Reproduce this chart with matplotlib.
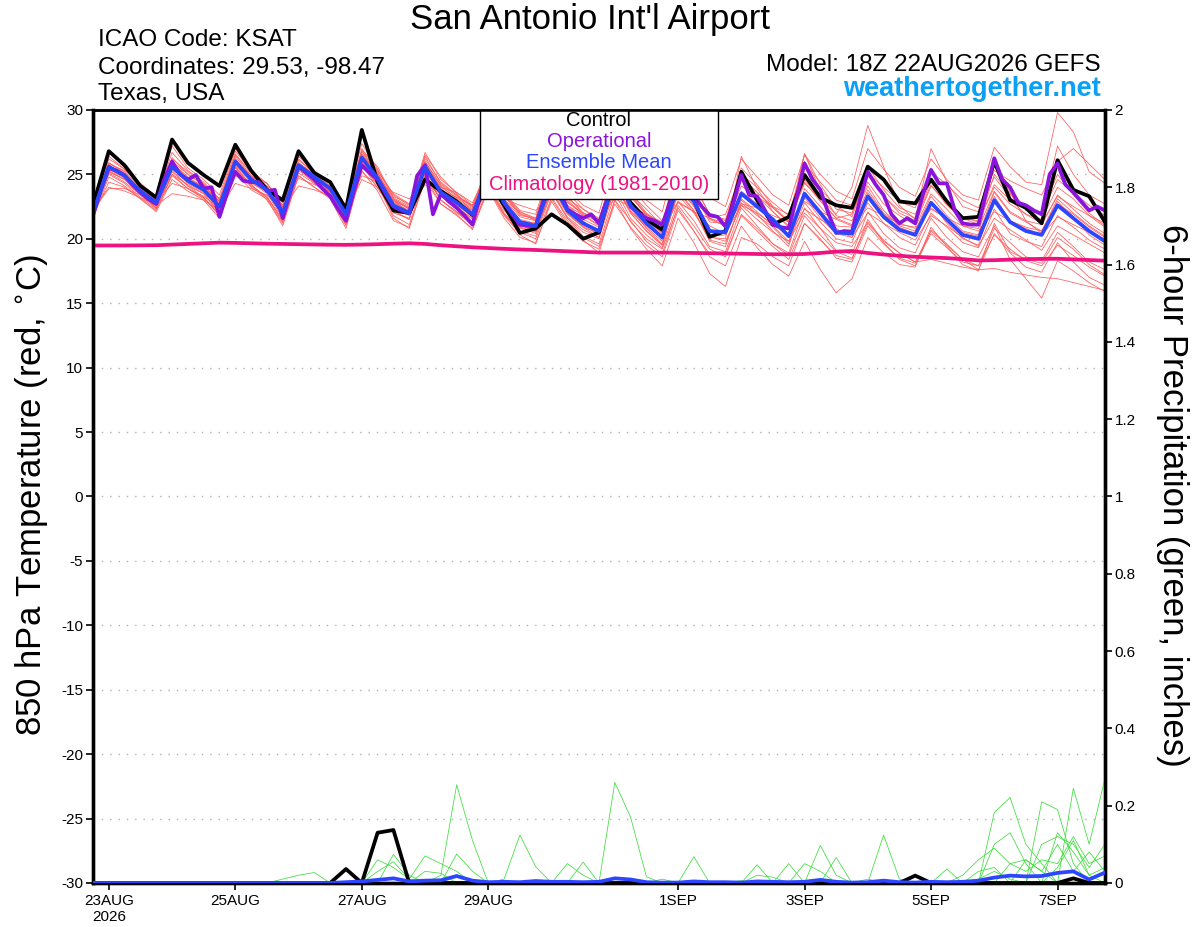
import numpy as np
import pandas as pd
import matplotlib
matplotlib.use("Agg")
import matplotlib.pyplot as plt
from matplotlib.patches import Rectangle

plt.rcParams['font.family'] = ['Liberation Sans', 'DejaVu Sans']

#----------------------------------------
#--------data----------------------------
#----------------------------------------
times = pd.date_range('2026-08-22 18:00', periods=65, freq='6h')
times_op = pd.date_range('2026-08-22 18:00', periods=129, freq='3h')

control = [22.6, 26.8, 25.7, 24.1, 23.2, 27.7, 25.9, 24.95, 24.1, 27.3, 25.3, 23.8, 23.0,
           26.8, 25.1, 24.4, 22.3, 28.45, 24.4, 22.2, 22.0, 24.6, 23.7, 22.9, 21.85, 24.5,
           22.6, 20.45, 20.8, 21.9, 21.1, 20.0, 20.5, 25.0, 22.8, 21.5, 20.7, 25.0, 23.0,
           20.15, 20.6, 25.2, 23.0, 21.1, 21.7, 24.95, 23.2, 22.6, 22.4, 25.6, 24.6, 22.9,
           22.75, 24.6, 22.9, 21.6, 21.7, 26.0, 23.0, 22.4, 21.2, 26.1, 23.8, 23.3, 21.3]

ens_mean = [22.0, 25.6, 24.9, 23.7, 22.8, 25.6, 24.5, 23.8, 22.5, 26.0, 24.6, 23.8, 22.0,
            25.7, 24.8, 23.9, 21.9, 26.3, 24.7, 22.6, 22.0, 25.6, 23.6, 22.8, 21.9, 25.0,
            22.8, 21.3, 21.0, 24.5, 22.2, 21.2, 20.6, 24.8, 22.6, 21.2, 20.1, 24.3, 22.9,
            20.6, 20.5, 23.5, 22.5, 21.5, 20.2, 23.5, 22.0, 20.5, 20.4, 23.3, 21.7, 20.7,
            20.3, 22.8, 21.5, 20.3, 20.0, 23.0, 21.3, 20.6, 20.3, 22.6, 21.6, 20.6, 19.8]

# operational run is 3-hourly
operational = [21.8, 23.8, 25.5, 25.3, 24.9, 24.2, 23.6, 23.1, 22.7, 24.6,
               26.0, 25.0, 24.6, 24.95, 23.9, 24.0, 21.7, 23.6, 25.2, 24.5,
               24.4, 24.4, 23.7, 23.8, 21.6, 23.7, 25.6, 25.1, 24.6, 23.9,
               23.3, 22.3, 21.4, 23.7, 25.7, 25.1, 24.6, 23.5, 22.5, 22.2,
               22.0, 24.9, 25.7, 21.9, 23.5, 22.9, 22.4, 21.8, 21.1, 23.5,
               25.5, 24.0, 22.8, 21.9, 21.1, 21.0, 21.0, 23.0, 25.5, 23.9,
               22.3, 21.9, 21.6, 21.9, 21.2, 23.0, 25.3, 24.0, 22.5, 22.0,
               21.6, 21.4, 21.1, 22.8, 25.0, 24.1, 23.3, 22.5, 21.85, 21.7,
               20.95, 22.8, 24.95, 23.4, 23.3, 22.2, 21.1, 20.9, 20.8, 23.2,
               25.85, 24.6, 23.8, 22.0, 20.45, 20.6, 20.55, 23.0, 25.2, 24.2,
               23.4, 21.9, 21.2, 21.6, 21.2, 23.5, 25.35, 24.3, 24.3, 22.2,
               21.2, 21.1, 21.1, 23.7, 26.25, 24.6, 24.0, 22.8, 22.6, 22.2,
               21.9, 25.0, 25.85, 24.2, 23.6, 22.9, 22.2, 22.5, 22.2]

climatology = [19.48, 19.48, 19.48, 19.49, 19.5, 19.55, 19.6, 19.65, 19.7, 19.68, 19.65, 19.62, 19.6,
               19.58, 19.56, 19.54, 19.53, 19.55, 19.58, 19.62, 19.65, 19.6, 19.5, 19.42, 19.34, 19.28,
               19.22, 19.17, 19.13, 19.08, 19.03, 18.98, 18.93, 18.93, 18.93, 18.93, 18.93, 18.92, 18.9,
               18.88, 18.86, 18.84, 18.82, 18.8, 18.8, 18.82, 18.9, 19.0, 19.05, 18.9, 18.78, 18.68,
               18.6, 18.55, 18.5, 18.42, 18.32, 18.34, 18.38, 18.42, 18.44, 18.45, 18.4, 18.35, 18.3]

mem01 = [22.4, 26.9, 25.5, 24.2, 22.9, 27.2, 25.5, 24.6, 23.4, 27.0, 25.2, 24.0, 22.6,
         26.5, 25.2, 24.3, 22.6, 27.4, 25.4, 23.1, 22.3, 26.5, 24.8, 23.5, 22.0, 25.6,
         23.5, 21.9, 21.5, 25.8, 23.6, 22.3, 21.4, 25.6, 23.4, 21.9, 21.2, 25.9, 24.1,
         21.9, 21.4, 25.5, 24.2, 22.5, 21.9, 26.0, 23.8, 22.6, 21.7, 25.2, 23.3, 22.0,
         21.4, 24.2, 22.6, 21.5, 21.8, 25.8, 23.9, 22.3, 22.1, 25.0, 23.4, 22.0, 21.0]
mem02 = [21.6, 24.8, 24.1, 23.1, 22.2, 24.9, 23.9, 23.2, 22.0, 25.3, 24.2, 23.0, 21.2,
         24.9, 24.0, 23.2, 21.0, 25.2, 24.1, 21.8, 21.1, 24.9, 23.0, 22.1, 21.0, 23.9,
         21.8, 20.5, 20.0, 23.2, 21.4, 20.1, 19.4, 23.0, 21.4, 19.8, 18.8, 22.6, 21.0,
         19.2, 18.6, 21.9, 20.8, 19.6, 18.7, 21.8, 20.3, 19.0, 18.5, 21.2, 19.8, 18.9,
         18.2, 20.6, 19.5, 18.4, 17.9, 20.8, 19.7, 18.6, 18.3, 20.5, 19.4, 18.2, 17.6]
mem03 = [22.1, 25.9, 25.2, 24.0, 22.9, 26.3, 25.0, 24.2, 22.8, 26.6, 25.1, 24.3, 22.5,
         26.2, 25.1, 24.4, 22.4, 26.8, 25.3, 23.4, 22.6, 26.0, 24.2, 23.3, 22.6, 24.8,
         22.5, 21.4, 21.2, 25.2, 23.0, 21.9, 21.3, 25.9, 24.1, 22.6, 21.4, 24.8, 23.3,
         21.6, 21.9, 24.9, 23.6, 22.4, 21.3, 24.4, 22.9, 21.6, 21.9, 25.6, 23.8, 22.4,
         21.9, 24.6, 22.8, 21.6, 21.4, 24.0, 22.7, 21.9, 21.2, 23.3, 22.5, 21.8, 20.9]
mem04 = [22.3, 24.0, 23.7, 23.2, 22.6, 23.5, 23.3, 23.0, 22.2, 24.3, 23.9, 23.4, 22.3,
         24.1, 23.8, 23.3, 22.0, 24.6, 24.0, 23.1, 22.4, 24.2, 23.5, 22.9, 22.2, 24.0,
         23.0, 22.1, 21.5, 23.5, 22.6, 21.8, 21.0, 23.6, 22.5, 21.4, 20.5, 22.9, 22.1,
         21.0, 20.4, 22.6, 22.0, 21.1, 20.2, 22.3, 21.5, 20.8, 20.1, 22.0, 21.2, 20.5,
         19.9, 21.8, 21.0, 20.1, 19.4, 21.6, 20.7, 19.9, 19.1, 21.0, 20.3, 19.6, 18.9]
mem05 = [21.9, 25.3, 24.6, 23.5, 22.5, 25.9, 24.8, 24.0, 22.6, 26.4, 24.9, 24.1, 22.3,
         25.9, 24.6, 23.6, 21.6, 26.6, 25.0, 22.9, 22.4, 25.9, 24.0, 23.2, 22.3, 25.9,
         23.6, 22.2, 21.9, 25.9, 23.8, 22.6, 22.0, 26.4, 24.5, 23.0, 22.1, 26.8, 24.9,
         23.2, 22.5, 26.2, 24.8, 23.4, 22.6, 26.5, 25.0, 23.7, 23.1, 27.0, 25.4, 24.0,
         23.3, 26.2, 24.6, 23.4, 23.0, 27.1, 25.6, 24.4, 24.2, 29.8, 28.3, 25.2, 24.3]
mem06 = [22.0, 25.1, 24.4, 23.4, 22.4, 25.2, 24.1, 23.5, 22.1, 25.7, 24.4, 23.5, 21.6,
         25.4, 24.5, 23.6, 21.6, 25.9, 24.3, 22.0, 21.6, 25.1, 23.0, 22.0, 21.2, 24.6,
         22.3, 20.9, 20.4, 23.9, 21.6, 20.2, 19.6, 23.5, 21.3, 20.0, 19.2, 22.4, 20.6,
         18.6, 17.9, 21.0, 19.3, 18.0, 17.1, 19.8, 17.6, 15.8, 16.9, 20.1, 18.9, 18.0,
         17.8, 20.7, 19.6, 18.4, 17.6, 20.4, 18.9, 17.8, 17.4, 19.7, 18.2, 17.0, 16.4]
mem07 = [22.2, 25.7, 25.0, 23.9, 23.0, 25.9, 24.7, 24.0, 22.9, 26.2, 24.9, 24.0, 22.1,
         25.9, 25.0, 24.0, 22.0, 26.1, 24.9, 23.0, 22.3, 26.4, 24.3, 23.4, 22.4, 25.4,
         22.9, 21.1, 20.5, 24.1, 22.4, 21.4, 20.3, 24.3, 22.0, 20.6, 19.5, 23.8, 22.2,
         19.8, 19.4, 23.0, 21.9, 20.6, 19.4, 23.9, 22.5, 21.0, 20.9, 23.8, 22.0, 21.1,
         20.9, 23.5, 22.3, 21.0, 20.8, 23.7, 22.1, 21.4, 21.1, 23.4, 22.3, 21.2, 20.4]
mem08 = [21.7, 25.2, 24.6, 23.4, 22.4, 25.3, 24.1, 23.2, 21.8, 25.5, 24.0, 23.2, 21.3,
         25.1, 24.3, 23.4, 21.2, 25.7, 24.2, 21.6, 20.8, 24.8, 22.7, 21.9, 20.7, 24.0,
         21.9, 20.3, 19.6, 23.1, 21.2, 19.9, 18.9, 23.0, 20.8, 19.2, 17.9, 21.6, 19.7,
         17.3, 16.3, 20.1, 19.6, 18.6, 17.9, 21.2, 20.0, 18.5, 18.2, 21.0, 19.6, 18.5,
         18.1, 20.4, 19.3, 18.2, 17.9, 20.3, 19.2, 18.3, 17.9, 19.5, 18.7, 17.8, 17.1]
mem09 = [22.5, 25.8, 25.3, 24.3, 23.3, 26.0, 25.0, 24.2, 23.1, 25.9, 24.8, 24.3, 22.8,
         25.5, 24.9, 24.3, 22.5, 25.8, 24.8, 23.3, 22.7, 25.2, 24.0, 23.6, 22.8, 25.3,
         23.3, 22.0, 21.4, 24.6, 23.1, 22.3, 21.6, 25.0, 23.2, 21.9, 21.0, 24.7, 23.6,
         21.5, 21.0, 24.1, 23.3, 22.4, 21.3, 24.3, 23.1, 21.9, 24.0, 28.8, 25.6, 22.6,
         21.5, 24.5, 23.0, 21.7, 21.3, 24.2, 23.0, 21.9, 21.5, 24.0, 23.1, 21.8, 21.2]
mem10 = [22.0, 25.4, 24.8, 23.5, 22.7, 25.4, 24.4, 23.9, 22.7, 26.1, 24.5, 23.6, 21.8,
         25.6, 24.7, 23.7, 21.7, 26.5, 25.1, 23.0, 22.0, 25.4, 23.3, 22.5, 21.5, 24.6,
         22.4, 21.0, 20.8, 24.2, 22.0, 20.9, 20.4, 24.6, 22.4, 20.8, 19.6, 23.9, 22.6,
         20.1, 20.0, 26.4, 23.9, 22.1, 21.0, 26.6, 23.7, 21.8, 21.4, 24.1, 22.2, 21.0,
         20.6, 23.3, 21.8, 20.6, 20.3, 23.6, 22.0, 21.3, 20.6, 23.1, 22.0, 21.0, 20.2]
mem11 = [22.1, 25.5, 24.8, 23.6, 22.6, 25.5, 24.3, 23.6, 22.3, 25.9, 24.5, 23.7, 21.9,
         25.6, 24.6, 23.7, 21.8, 26.1, 24.5, 22.4, 21.8, 25.3, 23.3, 22.4, 21.6, 24.7,
         22.5, 21.2, 20.9, 24.3, 22.0, 21.0, 20.4, 24.0, 22.2, 21.0, 20.2, 23.4, 22.0,
         20.2, 19.8, 22.6, 21.5, 20.5, 19.8, 22.0, 20.8, 19.7, 19.4, 21.3, 19.9, 18.9,
         18.2, 18.4, 18.1, 17.8, 17.6, 17.7, 17.4, 17.2, 17.0, 16.9, 16.6, 16.3, 16.0]
mem12 = [21.8, 25.0, 24.3, 23.2, 22.3, 25.0, 23.9, 23.1, 21.9, 25.6, 24.2, 23.2, 21.5,
         25.3, 24.4, 23.5, 21.4, 26.0, 24.4, 22.1, 21.5, 25.6, 23.4, 22.3, 21.3, 24.4,
         22.0, 20.6, 20.2, 23.6, 21.6, 20.5, 20.0, 23.9, 21.6, 20.3, 19.3, 22.9, 21.4,
         19.4, 19.0, 22.4, 21.0, 19.6, 18.9, 22.4, 20.8, 19.1, 18.8, 22.1, 20.4, 19.3,
         18.9, 21.6, 20.1, 19.0, 18.6, 21.0, 18.4, 16.9, 15.4, 18.3, 17.5, 16.6, 15.9]
mem13 = [22.3, 26.2, 25.4, 24.1, 23.1, 26.7, 25.3, 24.4, 23.1, 26.8, 25.3, 24.3, 22.6,
         26.4, 25.3, 24.4, 22.4, 27.0, 25.3, 23.5, 22.7, 26.2, 24.4, 23.4, 22.5, 25.6,
         23.4, 21.8, 21.6, 25.3, 23.3, 22.0, 21.3, 25.5, 23.5, 22.3, 21.0, 25.2, 23.8,
         21.6, 21.2, 24.8, 23.6, 22.5, 21.4, 26.6, 24.2, 22.3, 22.0, 24.9, 23.3, 22.2,
         21.6, 27.0, 24.4, 22.5, 22.1, 24.8, 23.2, 22.3, 22.0, 27.2, 25.0, 23.4, 22.7]
mem14 = [22.0, 25.2, 24.6, 23.4, 22.4, 25.0, 24.2, 23.5, 22.0, 25.6, 24.1, 23.3, 21.4,
         25.5, 24.3, 23.3, 21.1, 25.8, 23.9, 22.2, 21.5, 25.1, 23.0, 22.1, 21.2, 24.2,
         21.9, 20.8, 20.6, 23.6, 21.7, 20.7, 20.1, 24.2, 22.0, 20.6, 19.5, 23.6, 22.2,
         19.9, 19.6, 22.8, 21.8, 20.9, 19.6, 22.8, 21.3, 20.0, 19.7, 22.8, 21.2, 20.1,
         19.5, 22.0, 20.9, 19.7, 19.3, 22.3, 20.4, 19.8, 19.4, 21.8, 20.9, 19.9, 19.2]
mem15 = [21.9, 25.6, 25.1, 23.8, 22.6, 25.6, 24.5, 23.9, 22.3, 26.0, 24.7, 23.9, 22.0,
         25.6, 24.9, 24.0, 21.9, 26.6, 25.2, 22.9, 22.1, 25.9, 23.9, 22.9, 22.0, 25.2,
         23.0, 21.5, 21.2, 24.9, 22.6, 21.5, 20.9, 24.9, 22.8, 21.4, 20.4, 24.6, 23.1,
         20.7, 20.5, 23.7, 22.7, 21.6, 20.3, 23.6, 22.2, 20.6, 20.6, 23.2, 21.6, 20.6,
         20.5, 22.4, 21.5, 20.5, 20.2, 26.0, 23.6, 21.4, 20.4, 22.7, 21.9, 20.9, 20.1]
mem16 = [22.2, 23.9, 23.9, 23.4, 22.8, 24.3, 23.9, 23.3, 22.4, 24.9, 24.3, 23.7, 22.5,
         24.7, 24.2, 23.7, 22.3, 24.9, 24.4, 23.6, 23.1, 24.5, 23.8, 23.2, 22.6, 24.3,
         23.1, 22.6, 22.2, 23.4, 22.8, 22.0, 21.5, 23.1, 22.5, 21.9, 21.3, 22.8, 22.1,
         21.6, 21.0, 22.7, 22.4, 21.8, 21.3, 22.9, 22.1, 21.5, 21.0, 22.4, 21.8, 21.2,
         20.8, 22.3, 21.6, 21.0, 20.6, 22.1, 21.4, 20.8, 20.3, 21.7, 21.1, 20.5, 20.0]
mem17 = [22.4, 25.9, 25.1, 23.8, 22.9, 25.4, 24.6, 24.1, 22.9, 26.2, 24.6, 23.7, 21.7,
         25.8, 24.9, 23.9, 21.5, 26.0, 24.6, 22.3, 21.9, 25.8, 23.4, 22.6, 21.7, 24.9,
         22.2, 20.9, 20.6, 24.0, 21.9, 20.9, 20.1, 24.4, 22.1, 20.9, 19.8, 24.0, 22.5,
         20.2, 20.3, 23.1, 22.1, 21.0, 19.8, 23.2, 21.6, 20.4, 20.1, 23.6, 21.9, 20.9,
         20.4, 22.8, 21.2, 20.0, 19.5, 23.3, 21.4, 20.9, 20.6, 22.9, 21.7, 20.3, 19.5]
mem18 = [22.1, 25.4, 24.7, 23.6, 22.7, 25.8, 24.6, 23.8, 22.6, 26.2, 24.8, 23.9, 22.2,
         25.9, 25.0, 23.9, 21.9, 26.8, 25.0, 22.8, 22.2, 26.0, 24.1, 23.1, 22.2, 25.4,
         23.1, 21.7, 21.4, 25.0, 22.9, 21.8, 21.1, 25.4, 23.6, 22.0, 21.1, 25.6, 24.3,
         21.9, 21.5, 25.0, 24.0, 22.8, 21.8, 25.8, 24.4, 23.0, 22.6, 25.1, 24.0, 22.9,
         22.4, 25.2, 24.2, 23.0, 22.4, 25.3, 24.5, 23.9, 23.4, 26.0, 27.0, 25.8, 24.6]
mem19 = [21.8, 24.4, 24.0, 23.1, 22.1, 24.6, 23.7, 23.0, 21.6, 25.1, 23.8, 23.1, 21.0,
         24.9, 24.0, 23.1, 20.8, 25.3, 23.7, 21.4, 20.9, 24.5, 22.7, 21.8, 20.8, 23.8,
         21.6, 20.1, 19.7, 22.9, 21.0, 19.8, 19.2, 22.7, 20.9, 19.5, 18.6, 22.2, 20.6,
         18.8, 18.8, 21.8, 20.6, 19.4, 18.4, 21.2, 19.9, 18.7, 18.4, 21.5, 19.7, 18.4,
         17.9, 20.9, 19.4, 18.0, 17.5, 21.2, 19.0, 18.4, 18.1, 20.1, 19.2, 18.0, 17.2]
mem20 = [22.6, 26.4, 25.4, 24.1, 23.0, 26.2, 25.2, 24.3, 23.0, 26.5, 25.1, 24.1, 22.4,
         26.1, 25.1, 24.1, 22.2, 26.9, 25.6, 23.2, 22.5, 26.7, 24.6, 23.6, 22.6, 25.8,
         23.5, 22.1, 21.6, 25.5, 23.3, 22.0, 21.5, 25.3, 23.4, 21.8, 20.9, 25.0, 23.5,
         21.3, 21.2, 24.6, 23.3, 22.1, 20.9, 24.6, 23.0, 21.6, 21.1, 24.4, 22.7, 21.8,
         21.1, 24.1, 22.8, 21.6, 21.1, 25.0, 23.5, 22.2, 21.9, 24.6, 23.6, 22.6, 21.8]
members = [mem01, mem02, mem03, mem04, mem05, mem06, mem07, mem08, mem09, mem10,
           mem11, mem12, mem13, mem14, mem15, mem16, mem17, mem18, mem19, mem20]

# 6-hour precipitation, inches
pcp_control = [0, 0, 0, 0, 0, 0, 0, 0, 0, 0, 0, 0, 0,
               0, 0, 0, 0.036, 0, 0.13, 0.137, 0, 0, 0, 0, 0, 0,
               0, 0, 0, 0, 0, 0, 0, 0, 0, 0, 0, 0, 0,
               0, 0, 0, 0, 0, 0, 0, 0, 0, 0, 0, 0, 0,
               0.019, 0, 0, 0, 0, 0, 0, 0, 0, 0, 0.012, 0, 0]
pcp_mean = [0, 0, 0, 0, 0, 0, 0, 0, 0, 0, 0, 0, 0,
            0, 0, 0, 0.002, 0.004, 0.008, 0.012, 0.004, 0.006, 0.007, 0.018, 0.006, 0.002,
            0.003, 0.002, 0.005, 0.003, 0.003, 0.002, 0.003, 0.012, 0.009, 0.002, 0.001, 0.001, 0.004,
            0.002, 0.002, 0.001, 0.004, 0.003, 0.002, 0.003, 0.008, 0.003, 0.001, 0.002, 0.006, 0.002,
            0.001, 0.003, 0.002, 0.003, 0.006, 0.014, 0.019, 0.017, 0.018, 0.026, 0.030, 0.009, 0.027]
pcp01 = [0, 0, 0, 0, 0, 0, 0, 0, 0, 0, 0, 0, 0,
         0, 0, 0, 0, 0, 0, 0, 0, 0, 0.02, 0.254, 0.11, 0,
         0, 0, 0, 0, 0, 0, 0, 0, 0, 0, 0, 0, 0,
         0, 0, 0, 0, 0, 0, 0, 0, 0, 0, 0, 0, 0,
         0, 0, 0, 0, 0.01, 0.03, 0.01, 0, 0, 0, 0, 0, 0]
pcp02 = [0, 0, 0, 0, 0, 0, 0, 0, 0, 0, 0, 0, 0,
         0, 0, 0, 0, 0, 0, 0, 0, 0, 0, 0, 0, 0,
         0, 0, 0, 0, 0, 0, 0, 0.26, 0.17, 0.016, 0, 0, 0,
         0, 0, 0, 0, 0, 0, 0, 0, 0, 0, 0.01, 0, 0,
         0, 0, 0, 0, 0, 0, 0, 0, 0, 0.04, 0.11, 0.02, 0]
pcp03 = [0, 0, 0, 0, 0, 0, 0, 0, 0, 0, 0, 0, 0,
         0, 0, 0, 0, 0, 0, 0, 0, 0, 0, 0, 0, 0,
         0.01, 0.124, 0.042, 0, 0, 0, 0, 0, 0, 0, 0, 0, 0,
         0, 0, 0, 0, 0, 0, 0, 0.097, 0.02, 0, 0, 0, 0,
         0, 0, 0, 0, 0, 0, 0.05, 0.06, 0.03, 0, 0, 0, 0]
pcp04 = [0, 0, 0, 0, 0, 0, 0, 0, 0, 0, 0, 0, 0,
         0, 0, 0, 0, 0, 0.06, 0.04, 0.01, 0.07, 0.05, 0.03, 0, 0,
         0, 0, 0, 0, 0, 0, 0, 0, 0, 0, 0, 0, 0.068,
         0, 0, 0, 0, 0, 0, 0, 0, 0, 0, 0, 0, 0,
         0, 0, 0, 0, 0, 0.182, 0.221, 0.1, 0.05, 0, 0, 0, 0]
pcp05 = [0, 0, 0, 0, 0, 0, 0, 0, 0, 0, 0, 0, 0.01,
         0.02, 0.027, 0, 0, 0, 0, 0, 0, 0, 0, 0, 0, 0,
         0, 0, 0, 0, 0, 0, 0, 0, 0, 0, 0, 0, 0,
         0, 0, 0, 0, 0, 0, 0, 0, 0, 0, 0, 0.124, 0.01,
         0, 0, 0, 0, 0, 0, 0, 0, 0.21, 0.19, 0.05, 0, 0]
pcp06 = [0, 0, 0, 0, 0, 0, 0, 0, 0, 0, 0, 0, 0,
         0, 0, 0, 0, 0, 0, 0.074, 0.02, 0, 0, 0.075, 0.03, 0,
         0, 0, 0, 0, 0.05, 0.02, 0, 0, 0, 0, 0, 0, 0,
         0, 0, 0, 0.047, 0, 0, 0, 0, 0, 0, 0, 0, 0,
         0, 0, 0, 0, 0, 0, 0, 0, 0, 0, 0.245, 0.1, 0.27]
pcp07 = [0, 0, 0, 0, 0, 0, 0, 0, 0, 0, 0, 0, 0,
         0, 0, 0, 0, 0, 0, 0, 0, 0, 0, 0, 0, 0,
         0, 0, 0, 0, 0, 0.054, 0, 0, 0, 0, 0, 0, 0,
         0, 0, 0, 0, 0, 0.05, 0, 0, 0.066, 0, 0, 0, 0,
         0, 0, 0.036, 0, 0, 0.1, 0.13, 0.05, 0, 0.13, 0.08, 0.02, 0.04]
pcp08 = [0, 0, 0, 0, 0, 0, 0, 0, 0, 0, 0, 0, 0,
         0, 0, 0, 0, 0, 0.03, 0.055, 0.01, 0, 0, 0, 0, 0,
         0, 0, 0, 0, 0, 0, 0, 0, 0, 0, 0, 0, 0,
         0, 0, 0, 0.02, 0.015, 0, 0, 0, 0, 0, 0, 0, 0,
         0, 0, 0, 0, 0.03, 0.04, 0, 0, 0.1, 0.12, 0.1, 0.04, 0.1]
pcp09 = [0, 0, 0, 0, 0, 0, 0, 0, 0, 0, 0, 0, 0,
         0, 0, 0, 0, 0, 0, 0, 0, 0.03, 0.025, 0, 0, 0,
         0, 0, 0, 0, 0, 0, 0, 0, 0, 0, 0, 0, 0,
         0, 0, 0, 0, 0, 0, 0.05, 0.03, 0, 0, 0, 0, 0,
         0, 0, 0, 0.02, 0.06, 0.09, 0.05, 0.03, 0.06, 0.05, 0.12, 0.05, 0.07]
pcp10 = [0, 0, 0, 0, 0, 0, 0, 0, 0, 0, 0, 0, 0,
         0, 0, 0, 0, 0, 0, 0, 0, 0, 0, 0.02, 0, 0,
         0, 0, 0, 0, 0, 0, 0, 0, 0, 0, 0.01, 0, 0,
         0, 0, 0.006, 0, 0, 0, 0, 0, 0, 0, 0, 0, 0,
         0, 0, 0, 0, 0, 0, 0, 0.06, 0.03, 0.1, 0.03, 0.08, 0.03]
pcp_members = [pcp01, pcp02, pcp03, pcp04, pcp05, pcp06, pcp07, pcp08, pcp09, pcp10]

tick_dates = ['2026-08-23', '2026-08-25', '2026-08-27', '2026-08-29',
              '2026-09-01', '2026-09-03', '2026-09-05', '2026-09-07']
tick_labels = ['23AUG\n2026', '25AUG', '27AUG', '29AUG', '1SEP', '3SEP', '5SEP', '7SEP']
temp_ticks = list(range(-30, 31, 5))
pcp_ticks = [0, 0.2, 0.4, 0.6, 0.8, 1.0, 1.2, 1.4, 1.6, 1.8, 2.0]
pcp_tick_labels = ['0', '0.2', '0.4', '0.6', '0.8', '1', '1.2', '1.4', '1.6', '1.8', '2']

#----------------------------------------
#--------figure-----------
#----------------------------------------
fig = plt.figure(figsize=(12, 9.27), dpi=100)
ax = fig.add_axes([0.0775, 0.0475, 0.8433, 0.8339])

RED = '#ff5c5c'
PURPLE = '#8a14dc'
BLUE = '#2c46ff'
PINK = '#ee1180'
GREEN = '#3ddd3d'

for m in members:
    ax.plot(times, m, color=RED, lw=0.55, zorder=2)
ax.plot(times, climatology, color=PINK, lw=2.7, zorder=3)
ax.plot(times, control, color='black', lw=2.7, zorder=4)
ax.plot(times_op, operational, color=PURPLE, lw=2.7, zorder=5)
ax.plot(times, ens_mean, color=BLUE, lw=2.7, zorder=6)

ax.set_xlim(times[0], times[-1])
ax.set_ylim(-30, 30)
ax.set_yticks(temp_ticks)
ax.set_yticklabels([str(t) for t in temp_ticks])
ax.set_xticks(pd.to_datetime(tick_dates))
ax.set_xticklabels(tick_labels)
ax.grid(axis='y', color='#b0b0b0', lw=1.0, ls=(0, (1, 5)), zorder=1)
ax.tick_params(axis='y', labelsize=11, length=5, width=1.2, direction='out', pad=2)
ax.tick_params(axis='x', labelsize=11, length=5, width=1.2, direction='out', pad=3)

for side in ['left', 'right', 'bottom']:
    ax.spines[side].set_linewidth(2.4)
ax.spines['top'].set_linewidth(1.8)

# precipitation on the right axis
ax2 = ax.twinx()
for p in pcp_members:
    ax2.plot(times, p, color=GREEN, lw=0.55, zorder=2)
ax2.plot(times, pcp_control, color='black', lw=2.7, zorder=3)
ax2.plot(times, pcp_mean, color=BLUE, lw=2.7, zorder=4)
ax2.set_ylim(0, 2)
ax2.set_yticks(pcp_ticks)
ax2.set_yticklabels(pcp_tick_labels)
ax2.tick_params(axis='y', labelsize=11, length=5, width=1.2, direction='out', pad=2)
for side in ['left', 'right', 'bottom']:
    ax2.spines[side].set_linewidth(2.4)
ax2.spines['top'].set_linewidth(1.8)

# legend box
ax.add_patch(Rectangle((0.3824, 0.885), 0.2352, 0.115, transform=ax.transAxes,
                       facecolor='white', edgecolor='black', lw=1.0, zorder=10))
leg_items = [('Control', 'black', 0.9858), ('Operational', PURPLE, 0.9586),
             ('Ensemble Mean', BLUE, 0.9314), ('Climatology (1981-2010)', PINK, 0.9030)]
for txt, col, yy in leg_items:
    ax.text(0.5, yy, txt, color=col, fontsize=14.5, ha='center', va='center',
            transform=ax.transAxes, zorder=11)

# headings
fig.text(0.4917, 0.9687, "San Antonio Int'l Airport", fontsize=25, ha='center', va='baseline')
fig.text(0.0817, 0.9504, 'ICAO Code: KSAT', fontsize=17.5, ha='left', va='baseline')
fig.text(0.0817, 0.9202, 'Coordinates: 29.53, -98.47', fontsize=17.5, ha='left', va='baseline')
fig.text(0.0817, 0.8921, 'Texas, USA', fontsize=17.5, ha='left', va='baseline')
fig.text(0.9175, 0.9234, 'Model: 18Z 22AUG2026 GEFS', fontsize=17.5, ha='right', va='baseline')
fig.text(0.9175, 0.8964, 'weathertogether.net', fontsize=19.5, ha='right', va='baseline',
         color='#0aa0f5', fontweight='bold')

fig.text(0.026, 0.466, '850 hPa Temperature (red, $^{\\circ}$C)', fontsize=25,
         rotation=90, ha='center', va='center')
fig.text(0.977, 0.466, '6-hour Precipitation (green, inches)', fontsize=25,
         rotation=270, ha='center', va='center')

fig.savefig('out.png', dpi=100)
